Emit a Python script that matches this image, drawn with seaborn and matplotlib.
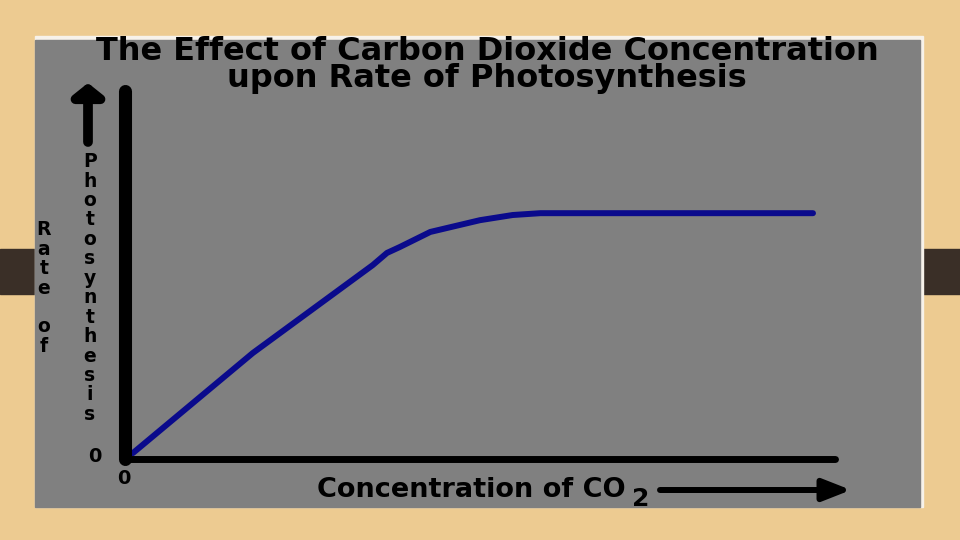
import matplotlib
matplotlib.use("Agg")
import matplotlib.pyplot as plt
from matplotlib.patches import Rectangle
from matplotlib.text import Annotation
import seaborn as sns

# ---- data (arbitrary units) ----
co2_conc = [0.11, 1.80, 3.49, 3.69, 3.87, 4.30, 5.00, 5.46, 5.85, 9.69]
photo_rate = [0.16, 2.88, 5.27, 5.60, 5.76, 6.17, 6.49, 6.63, 6.68, 6.68]

title_lines = ["The Effect of Carbon Dioxide Concentration",
               "upon Rate of Photosynthesis"]
y_label_outer = "Rate of"
y_label_inner = "Photosynthesis"
x_label = "Concentration of CO"
x_label_sub = "2"
zero_label = "0"

sns.set_theme(style="white")
plt.rcParams["font.family"] = ["DejaVu Sans"]
plt.rcParams["text.color"] = "black"

W, H = 960, 540
BEIGE = "#EDCB91"
STRIPE = "#3A2F27"
PANEL = "#808080"
CURVE = "#0A0A8C"


def fx(x):
    return x / W


def fy(y):
    return 1 - y / H


fig = plt.figure(figsize=(9.6, 5.4), dpi=100, facecolor=BEIGE)

# background: dark stripe, panel with white edge
fig.patches.append(Rectangle((0, fy(294)), 1, (294 - 249) / H,
                             transform=fig.transFigure, color=STRIPE, zorder=0))
fig.patches.append(Rectangle((fx(35), fy(507)), (923 - 35) / W, (507 - 36) / H,
                             transform=fig.transFigure, color="#F7F2EA", zorder=1))
fig.patches.append(Rectangle((fx(35), fy(507)), (920 - 35) / W, (507 - 40) / H,
                             transform=fig.transFigure, color=PANEL, zorder=2))

# plotting axes
ax = fig.add_axes([fx(125), fy(459), (835 - 125) / W, (459 - 91) / H])
ax.set_facecolor("none")
ax.set_zorder(5)
sns.lineplot(x=co2_conc, y=photo_rate, ax=ax, color=CURVE, lw=4.3,
             sort=False, estimator=None, solid_joinstyle="round")
ax.set_xlim(0, 10)
ax.set_ylim(0, 10)
ax.set_xticks([])
ax.set_yticks([])
ax.set_xlabel("")
ax.set_ylabel("")
for s in ("top", "right"):
    ax.spines[s].set_visible(False)
ax.spines["left"].set_linewidth(9.4)
ax.spines["bottom"].set_linewidth(5.0)
for s in ("left", "bottom"):
    ax.spines[s].set_color("black")
    ax.spines[s].set_capstyle("round")
    ax.spines[s].set_zorder(3)

# title (two lines, one text)
fig.text(fx(487), fy(87), "\n".join(title_lines), ha="center", va="baseline",
         multialignment="center", fontsize=23, fontweight="bold",
         color="black", linespacing=0.84, zorder=10)

# stacked y labels
fig.text(fx(44), fy(288), "\n".join(y_label_outer), ha="center", va="center",
         fontsize=13.5, fontweight="bold", linespacing=1.03, color="black",
         zorder=10)
fig.text(fx(90), fy(288), "\n".join(y_label_inner), ha="center", va="center",
         fontsize=13.5, fontweight="bold", linespacing=1.03, color="black",
         zorder=10)

# zeros
fig.text(fx(95), fy(457), zero_label, ha="center", va="center",
         fontsize=14, fontweight="bold", color="black", zorder=10)
fig.text(fx(124), fy(478), zero_label, ha="center", va="center",
         fontsize=14, fontweight="bold", color="black", zorder=10)

# x label with subscript
xl = fig.text(fx(317), fy(497), x_label, ha="left", va="baseline",
              fontsize=19.5, fontweight="bold", color="black", zorder=10)
fig.add_artist(Annotation(
    x_label_sub, xy=(1, 0), xycoords=xl, xytext=(6, -3),
    textcoords="offset pixels", ha="left", va="baseline",
    fontsize=18, fontweight="bold", color="black", zorder=10))

# arrows
fig.add_artist(Annotation(
    "", xy=(fx(851), fy(490)), xytext=(fx(660), fy(490)),
    xycoords="figure fraction", textcoords="figure fraction",
    arrowprops=dict(arrowstyle="-|>,head_length=1.4,head_width=0.55",
                    lw=4.3, color="black", shrinkA=0, shrinkB=0)))
fig.add_artist(Annotation(
    "", xy=(fx(88), fy(83)), xytext=(fx(88), fy(142)),
    xycoords="figure fraction", textcoords="figure fraction",
    arrowprops=dict(arrowstyle="-|>,head_length=0.6,head_width=0.75",
                    lw=7.0, color="black", shrinkA=0, shrinkB=0)))

fig.savefig("out.png", dpi=100, facecolor=BEIGE)
